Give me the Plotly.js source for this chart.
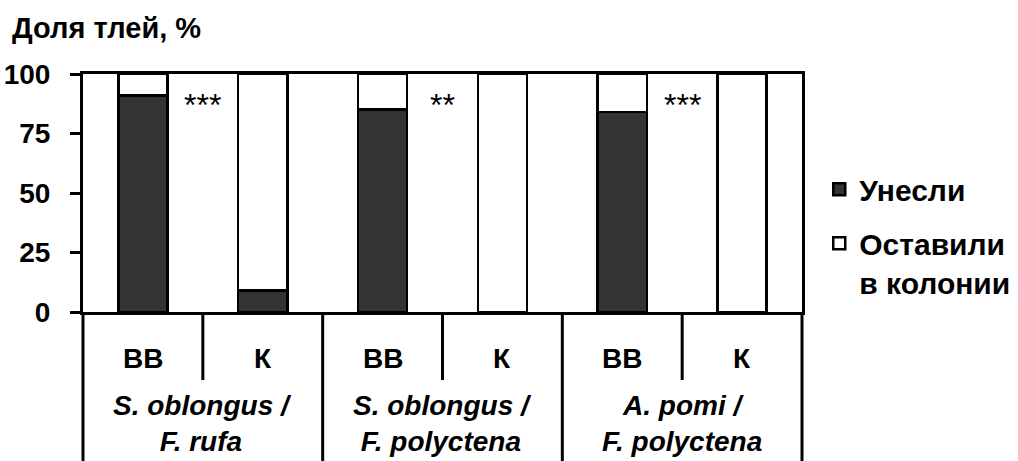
<!DOCTYPE html>
<html>
<head>
<meta charset="utf-8">
<script src="https://cdn.plot.ly/plotly-3.0.1.min.js"></script>
<style>html,body{margin:0;padding:0;background:#fff;}#chart{width:1018px;height:461px;}</style>
</head>
<body>
<div id="chart"></div>
<script>
// ---- data ----
const categories = ['ВВ', 'К', 'ВВ', 'К', 'ВВ', 'К'];
const groupLabels = ['S. oblongus /<br>F. rufa', 'S. oblongus /<br>F. polyctena', 'A. pomi /<br>F. polyctena'];
const carriedAway = [91, 9, 85, 0, 84, 0];
const leftInColony = [9, 91, 15, 100, 16, 100];
const significance = ['***', '**', '***'];
const yTicks = [0, 25, 50, 75, 100];
const seriesNames = ['Унесли', 'Оставили<br>в колонии'];
const yTitle = 'Доля тлей, %';

// ---- drawing ----
const FONT = 'Liberation Sans, Arial, Helvetica, sans-serif';
const xIdx = categories.map((_, i) => i);
const barW = 0.41;
const lineStyle = {color: '#000', width: 2.5};

const traces = [
  {type: 'bar', name: seriesNames[0], x: xIdx, y: carriedAway, width: barW,
   marker: {color: '#333333', line: lineStyle}, legendgroup: 'a', hoverinfo: 'y'},
  {type: 'bar', name: seriesNames[1], x: xIdx, y: leftInColony, width: barW,
   marker: {color: '#ffffff', line: lineStyle}, legendgroup: 'b', hoverinfo: 'y'}
];

const annotations = [];
categories.forEach((c, i) => {
  annotations.push({xref: 'x', yref: 'paper', x: i, y: -0.197, text: c, showarrow: false,
    xanchor: 'center', yanchor: 'middle', font: {family: FONT, size: 28, weight: 'bold', color: '#000'}});
});
groupLabels.forEach((g, k) => {
  annotations.push({xref: 'x', yref: 'paper', x: 2 * k + 0.5, y: -0.47, text: g, showarrow: false,
    xanchor: 'center', yanchor: 'middle',
    font: {family: FONT, size: 28, weight: 'bold', style: 'italic', color: '#000'}});
});
significance.forEach((s, k) => {
  annotations.push({xref: 'x', yref: 'y', x: 2 * k + 0.5, y: 87, text: s, showarrow: false,
    xanchor: 'center', yanchor: 'middle', font: {family: FONT, size: 32, color: '#000'}});
});

const shapes = [];
for (let i = 0; i < categories.length - 1; i++) {
  const full = (i % 2 === 1);
  shapes.push({type: 'line', xref: 'x', yref: 'paper', x0: i + 0.5, x1: i + 0.5,
    y0: 0, y1: full ? -0.7 : -0.286, line: {color: '#000', width: 3}});
}
shapes.push({type: 'line', xref: 'paper', yref: 'paper', x0: 0, x1: 0, y0: 0, y1: -0.7, line: {color: '#000', width: 3}});
shapes.push({type: 'line', xref: 'paper', yref: 'paper', x0: 1, x1: 1, y0: 0, y1: -0.7, line: {color: '#000', width: 3}});

const layout = {
  width: 1018, height: 461,
  margin: {l: 83, r: 216, t: 74, b: 149, pad: 0, autoexpand: false},
  paper_bgcolor: '#fff', plot_bgcolor: '#fff',
  barmode: 'stack',
  showlegend: true,
  title: {text: yTitle, xref: 'container', yref: 'container', x: 12 / 1018, xanchor: 'left',
          y: 1 - 28 / 461, yanchor: 'middle', font: {family: FONT, size: 29, weight: 'bold', color: '#000'}},
  xaxis: {range: [-0.5, 5.5], showticklabels: false, ticks: '', showgrid: false, zeroline: false,
          showline: true, linecolor: '#000', linewidth: 3, mirror: true, fixedrange: true},
  yaxis: {range: [0, 100], tickvals: yTicks, ticktext: yTicks.map(String), ticks: 'outside', ticklen: 10,
          tickwidth: 3, tickcolor: '#000', showgrid: false, zeroline: false, showline: true,
          linecolor: '#000', linewidth: 3, mirror: true, ticklabelstandoff: 14,
          tickfont: {family: FONT, size: 28, weight: 'bold', color: '#000'}, fixedrange: true},
  legend: {x: 1.024, xanchor: 'left', y: 0.625, yanchor: 'top', traceorder: 'grouped', valign: 'top',
           tracegroupgap: 12, bgcolor: 'rgba(0,0,0,0)',
           font: {family: FONT, size: 30, weight: 'bold', color: '#000'}},
  annotations: annotations,
  shapes: shapes
};

Plotly.newPlot('chart', traces, layout, {displayModeBar: false, staticPlot: true});
</script>
</body>
</html>
